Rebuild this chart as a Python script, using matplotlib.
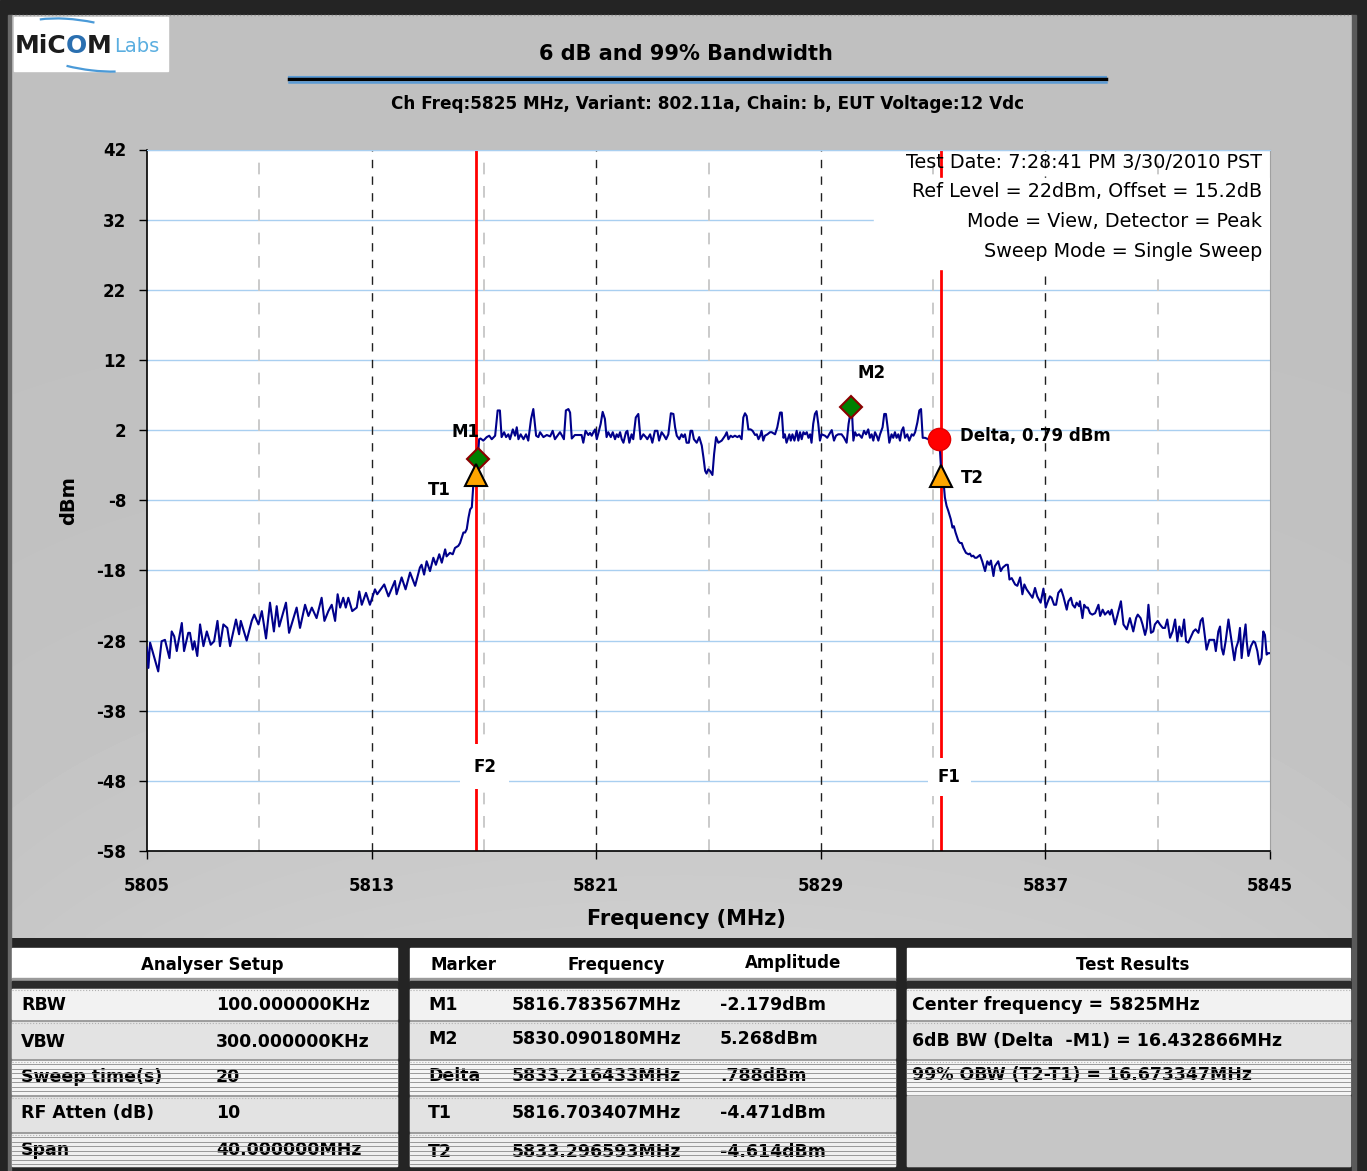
import numpy as np
import matplotlib
matplotlib.use('Agg')
import matplotlib.pyplot as plt
from matplotlib.patches import Rectangle, Arc

# spectrum trace (MHz, dBm)
skirt_lo = [
    (5805.00, -29.0), (5805.05, -31.9), (5805.11, -28.3), (5805.40, -32.4), (5805.52, -28.1), (5805.64, -27.9),
    (5805.80, -30.5), (5805.88, -26.7), (5805.97, -27.4), (5806.06, -29.5), (5806.24, -25.5), (5806.32, -29.5),
    (5806.47, -26.9), (5806.53, -26.9), (5806.63, -29.3), (5806.69, -28.1), (5806.79, -30.2), (5806.89, -25.7),
    (5807.01, -28.8), (5807.13, -26.7), (5807.27, -28.6), (5807.39, -28.1), (5807.51, -25.2), (5807.60, -28.8),
    (5807.72, -25.7), (5807.86, -26.2), (5807.96, -28.8), (5808.17, -25.0), (5808.28, -27.1), (5808.34, -25.2),
    (5808.55, -28.0), (5808.73, -25.2), (5808.82, -24.3), (5808.97, -25.7), (5809.09, -23.8), (5809.24, -27.7),
    (5809.38, -22.6), (5809.52, -26.7), (5809.62, -23.1), (5809.71, -26.0), (5809.95, -22.6), (5810.06, -26.9),
    (5810.33, -23.3), (5810.45, -26.2), (5810.63, -22.9), (5810.75, -24.5), (5810.87, -23.3), (5811.04, -24.8),
    (5811.22, -21.9), (5811.32, -25.2), (5811.46, -23.8), (5811.58, -22.9), (5811.70, -25.2), (5811.79, -21.4),
    (5811.88, -23.3), (5811.99, -21.9), (5812.08, -23.3), (5812.17, -21.9), (5812.31, -23.8), (5812.47, -23.3),
    (5812.56, -21.0), (5812.65, -22.9), (5812.80, -21.2), (5812.94, -22.9), (5813.12, -20.7), (5813.20, -21.4),
    (5813.45, -20.0), (5813.60, -21.7), (5813.83, -19.5), (5813.89, -21.4), (5814.07, -19.0), (5814.21, -20.7),
    (5814.37, -18.3), (5814.55, -20.2), (5814.72, -17.6)]

rise = [
    (5814.78, -17.2), (5814.87, -18.6), (5814.96, -16.7), (5815.08, -18.1), (5815.20, -16.2), (5815.29, -17.2),
    (5815.41, -15.7), (5815.50, -16.9), (5815.62, -15.0), (5815.67, -16.0), (5815.79, -15.5), (5815.89, -15.7),
    (5815.97, -14.8), (5816.09, -14.5), (5816.15, -14.1), (5816.27, -12.6), (5816.33, -12.6), (5816.39, -12.1),
    (5816.45, -10.5), (5816.51, -9.3), (5816.57, -9.0), (5816.62, -6.0), (5816.70, -4.47), (5816.78, -2.18),
    (5816.83, 0.7), (5816.88, 0.8)]

top = [
    (5816.98, 0.5), (5817.10, 1.0), (5817.19, 1.2), (5817.28, 0.7), (5817.40, 1.2), (5817.49, 4.8), (5817.57, 4.8),
    (5817.63, 1.0), (5817.72, 1.7), (5817.79, 1.0), (5817.87, 1.4), (5817.93, 0.7), (5818.03, 2.1), (5818.11, 1.2),
    (5818.17, 2.4), (5818.23, 0.7), (5818.31, 1.4), (5818.41, 0.7), (5818.50, 1.4), (5818.58, 0.5), (5818.68, 3.6),
    (5818.76, 5.0), (5818.86, 1.2), (5818.94, 1.0), (5819.00, 1.7), (5819.12, 1.0), (5819.24, 1.3), (5819.36, 1.1),
    (5819.45, 1.9), (5819.53, 0.7), (5819.71, 1.7), (5819.77, 1.3), (5819.85, 0.7), (5819.92, 4.8), (5820.01, 5.0),
    (5820.07, 4.5), (5820.13, 0.8), (5820.24, 1.3), (5820.36, 1.3), (5820.48, 1.3), (5820.54, 0.2), (5820.62, 1.9),
    (5820.72, 1.3), (5820.78, 1.6), (5820.84, 1.2), (5820.90, 1.7), (5820.96, 2.1), (5821.02, 0.7), (5821.08, 1.6),
    (5821.16, 2.9), (5821.23, 4.6), (5821.31, 3.6), (5821.37, 1.0), (5821.43, 1.7), (5821.52, 1.0), (5821.59, 1.7),
    (5821.67, 0.7), (5821.73, 1.4), (5821.79, 1.0), (5821.85, 1.7), (5821.91, 0.7), (5821.97, 0.2), (5822.06, 1.7),
    (5822.11, 1.9), (5822.18, 0.2), (5822.26, 1.4), (5822.32, 0.7), (5822.41, 3.8), (5822.50, 4.3), (5822.58, 0.7),
    (5822.68, 1.4), (5822.77, 1.0), (5822.82, 0.7), (5822.92, 1.4), (5823.00, 0.2), (5823.09, 1.9), (5823.18, 1.9),
    (5823.24, 0.5), (5823.33, 1.7), (5823.42, 1.2), (5823.49, 0.7), (5823.57, 1.4), (5823.66, 4.4), (5823.75, 4.3),
    (5823.81, 2.4), (5823.87, 1.2), (5823.96, 0.7), (5824.04, 1.4), (5824.10, 1.0), (5824.16, 1.4), (5824.22, 0.2),
    (5824.30, 0.2), (5824.36, 1.9), (5824.42, 1.9), (5824.48, 0.7), (5824.58, 0.2), (5824.67, 1.0), (5824.76, -0.2),
    (5824.82, -1.9), (5824.88, -3.8), (5824.93, -4.2), (5824.99, -3.6), (5825.05, -3.8), (5825.14, -4.4),
    (5825.20, -1.4), (5825.27, 1.0), (5825.35, 0.2), (5825.47, 0.5), (5825.59, 1.2), (5825.65, 1.7), (5825.71, 0.7),
    (5825.79, 1.2), (5825.86, 1.0), (5825.94, 1.2), (5826.03, 1.0), (5826.10, 1.2), (5826.18, 0.7), (5826.24, 3.8),
    (5826.30, 4.4), (5826.36, 4.0), (5826.42, 2.1), (5826.50, 2.1), (5826.57, 1.9), (5826.66, 1.3), (5826.72, 1.4),
    (5826.78, 0.7), (5826.84, 1.2), (5826.89, 1.9), (5826.95, 0.5), (5827.01, 1.2), (5827.10, 1.4), (5827.19, 1.7),
    (5827.25, 1.7), (5827.37, 1.4), (5827.45, 2.4), (5827.55, 4.5), (5827.61, 4.5), (5827.67, 0.9), (5827.72, 1.4),
    (5827.78, 0.2), (5827.88, 1.4), (5827.93, 0.5), (5827.99, 1.4), (5828.06, 0.5), (5828.14, 1.9), (5828.20, 0.5),
    (5828.26, 1.7), (5828.32, 0.7), (5828.38, 1.7), (5828.44, 1.4), (5828.50, 1.7), (5828.56, 0.9), (5828.62, 1.4),
    (5828.67, 0.2), (5828.73, 2.9), (5828.79, 4.3), (5828.85, 4.7), (5828.91, 2.9), (5828.97, 0.5), (5829.03, 1.4),
    (5829.15, 1.2), (5829.23, 0.9), (5829.30, 1.4), (5829.39, 2.0), (5829.47, 0.5), (5829.54, 1.2), (5829.62, 1.4),
    (5829.74, 1.4), (5829.83, 0.9), (5829.92, 0.2), (5829.99, 2.9), (5830.05, 4.3), (5830.09, 5.27), (5830.12, 3.8),
    (5830.16, 0.5), (5830.22, 1.7), (5830.28, 1.2), (5830.36, 1.4), (5830.46, 0.9), (5830.54, 1.9), (5830.61, 1.4),
    (5830.69, 2.1), (5830.75, 0.9), (5830.81, 1.4), (5830.87, 0.5), (5830.93, 1.7), (5830.99, 1.2), (5831.05, 0.5),
    (5831.11, 1.4), (5831.20, 2.4), (5831.26, 4.3), (5831.32, 4.3), (5831.38, 2.4), (5831.44, 0.2), (5831.52, 1.4),
    (5831.58, 0.9), (5831.64, 1.7), (5831.70, 0.9), (5831.76, 1.4), (5831.82, 0.5), (5831.88, 1.9), (5831.94, 2.4),
    (5832.00, 0.9), (5832.08, 1.4), (5832.15, 0.5), (5832.24, 1.4), (5832.30, 1.2), (5832.36, 1.7), (5832.44, 3.1),
    (5832.51, 4.8), (5832.57, 5.0), (5832.63, 0.9), (5832.71, 0.9), (5832.83, 0.7), (5832.95, 0.6), (5833.13, 0.7),
    (5833.22, 0.79)]

fall = [
    (5833.26, -2.0), (5833.30, -4.61), (5833.39, -6.2), (5833.42, -7.6), (5833.48, -8.8), (5833.54, -9.5),
    (5833.63, -10.7), (5833.69, -11.9), (5833.74, -11.7), (5833.80, -12.6), (5833.90, -13.8), (5833.96, -14.1),
    (5834.02, -14.1), (5834.08, -14.8), (5834.17, -15.5), (5834.26, -15.7), (5834.31, -15.6), (5834.37, -16.0),
    (5834.43, -15.9), (5834.49, -16.2), (5834.55, -16.2), (5834.67, -15.8), (5834.75, -16.7), (5834.85, -18.1),
    (5834.93, -16.7), (5835.00, -17.2), (5835.06, -16.6), (5835.15, -18.8), (5835.20, -17.4), (5835.32, -16.7),
    (5835.41, -18.1), (5835.48, -17.6), (5835.60, -17.2), (5835.66, -17.2), (5835.72, -19.3), (5835.80, -19.1),
    (5835.92, -20.0), (5836.00, -20.2), (5836.10, -19.0), (5836.18, -21.4), (5836.25, -20.0), (5836.33, -20.7)]

skirt_hi = [
    (5836.45, -21.4), (5836.54, -21.9), (5836.63, -20.5), (5836.71, -21.7), (5836.83, -22.6), (5836.93, -20.6),
    (5837.01, -23.3), (5837.07, -22.6), (5837.16, -21.7), (5837.22, -21.9), (5837.31, -22.9), (5837.38, -22.9),
    (5837.46, -21.2), (5837.56, -20.7), (5837.64, -21.7), (5837.76, -23.6), (5837.82, -22.4), (5837.91, -21.9),
    (5837.97, -22.9), (5838.05, -23.3), (5838.11, -22.6), (5838.20, -23.1), (5838.23, -22.4), (5838.32, -24.8),
    (5838.38, -22.9), (5838.45, -23.3), (5838.51, -23.3), (5838.59, -24.1), (5838.67, -24.3), (5838.77, -24.1),
    (5838.89, -22.9), (5838.95, -24.5), (5839.04, -23.6), (5839.12, -24.3), (5839.24, -23.8), (5839.30, -24.3),
    (5839.36, -23.6), (5839.48, -25.7), (5839.56, -24.5), (5839.69, -22.4), (5839.78, -25.7), (5839.90, -26.4),
    (5840.01, -24.8), (5840.13, -26.7), (5840.23, -24.8), (5840.29, -24.3), (5840.39, -24.8), (5840.46, -25.7),
    (5840.55, -27.2), (5840.61, -26.2), (5840.67, -22.9), (5840.76, -26.9), (5840.84, -26.7), (5840.90, -25.7),
    (5841.00, -25.2), (5841.08, -25.7), (5841.18, -26.2), (5841.26, -26.2), (5841.34, -25.0), (5841.44, -27.6),
    (5841.53, -26.7), (5841.62, -25.0), (5841.70, -28.1), (5841.77, -26.0), (5841.85, -27.4), (5841.94, -25.0),
    (5842.01, -28.1), (5842.09, -28.3), (5842.17, -27.6), (5842.27, -26.7), (5842.35, -26.4), (5842.45, -26.9),
    (5842.53, -25.2), (5842.60, -24.8), (5842.66, -26.7), (5842.74, -29.3), (5842.84, -27.9), (5842.92, -27.9),
    (5843.01, -27.9), (5843.07, -29.5), (5843.16, -26.7), (5843.22, -26.0), (5843.28, -29.1), (5843.34, -30.0),
    (5843.42, -28.1), (5843.52, -25.0), (5843.58, -26.7), (5843.67, -29.1), (5843.73, -30.8), (5843.79, -29.1),
    (5843.87, -28.1), (5843.93, -26.2), (5843.99, -30.5), (5844.05, -28.1), (5844.13, -25.7), (5844.17, -28.1),
    (5844.23, -30.2), (5844.32, -28.8), (5844.41, -28.1), (5844.47, -28.3), (5844.55, -29.5), (5844.62, -31.4),
    (5844.70, -30.5), (5844.76, -26.7), (5844.82, -27.2), (5844.88, -30.0), (5844.94, -29.8), (5845.00, -29.8)]

# markers
mk_names = ['M1', 'M2', 'Delta', 'T1', 'T2']
mk_freq = [5816.783567, 5830.090180, 5833.216433, 5816.703407, 5833.296593]
mk_amp = [-2.179, 5.268, 0.788, -4.471, -4.614]

xticks = [5805, 5813, 5821, 5829, 5837, 5845]
yticks = [42, 32, 22, 12, 2, -8, -18, -28, -38, -48, -58]

title = '6 dB and 99% Bandwidth'
subtitle = 'Ch Freq:5825 MHz, Variant: 802.11a, Chain: b, EUT Voltage:12 Vdc'
info = ['Test Date: 7:28:41 PM 3/30/2010 PST',
        'Ref Level = 22dBm, Offset = 15.2dB',
        'Mode = View, Detector = Peak',
        'Sweep Mode = Single Sweep']

setup_names = ['RBW', 'VBW', 'Sweep time(s)', 'RF Atten (dB)', 'Span']
setup_vals = ['100.000000KHz', '300.000000KHz', '20', '10', '40.000000MHz']
mk_freq_txt = ['5816.783567MHz', '5830.090180MHz', '5833.216433MHz', '5816.703407MHz', '5833.296593MHz']
mk_amp_txt = ['-2.179dBm', '5.268dBm', '.788dBm', '-4.471dBm', '-4.614dBm']
results = ['Center frequency = 5825MHz',
           '6dB BW (Delta  -M1) = 16.432866MHz',
           '99% OBW (T2-T1) = 16.673347MHz']

trace = skirt_lo + rise + top + fall + skirt_hi
tf = [p[0] for p in trace]
ta = [p[1] for p in trace]

W, H = 1367, 1171
fig = plt.figure(figsize=(W / 100, H / 100), dpi=100)

# ---- background / frame, drawn in pixel coords
bg = fig.add_axes([0, 0, 1, 1])
bg.add_patch(Rectangle((0, 0), W, H, color='#242424', zorder=0))
yy = np.linspace(0, 1, 200)[:, None]
xx = np.linspace(-1, 1, 300)[None, :]
shade = 0.752 + 0.055 * yy ** 3 * (1 - 0.5 * xx ** 2)
bg.imshow(shade, cmap='gray', vmin=0, vmax=1, extent=(11, 1352, 938, 15),
          aspect='auto', zorder=1, interpolation='bilinear')
bg.plot([11, 1352], [15, 15], color='#9a9a9a', lw=1, ls=':', zorder=2)
bg.add_patch(Rectangle((8, 15), 3, 1156, color='#6a6a6a', zorder=2))
bg.add_patch(Rectangle((1352, 15), 4, 1156, color='#5a5a5a', zorder=2))

# logo
bg.add_patch(Rectangle((14, 17), 154, 54, color='white', zorder=2))
bg.add_patch(Arc((84, 45), 140, 48, angle=10, theta1=30, theta2=120, color='#4a9ad8', lw=1.6, zorder=3))
bg.add_patch(Arc((84, 45), 140, 48, angle=10, theta1=200, theta2=285, color='#4a9ad8', lw=1.6, zorder=3))
bg.text(15, 46, 'MiC', fontsize=18, weight='bold', color='#1c1c1c', va='center', zorder=4)
bg.text(76, 46, 'O', fontsize=18, weight='bold', color='#2a6fb0', ha='center', va='center', zorder=4)
bg.text(87, 46, 'M', fontsize=18, weight='bold', color='#1c1c1c', va='center', zorder=4)
bg.text(114, 46, 'Labs', fontsize=14, color='#5aaee0', va='center', zorder=4)

# title block
bg.text(686, 54, title, fontsize=15, weight='bold', ha='center', va='center', zorder=3)
bg.plot([289, 1106], [77, 77], color='#5b9bd5', lw=1.5, zorder=3)
bg.plot([289, 1106], [79, 79], color='black', lw=2.5, zorder=3)
bg.plot([289, 1106], [81.5, 81.5], color='#5b9bd5', lw=1.8, zorder=3)
bg.text(708, 104, subtitle, fontsize=12.2, weight='bold', ha='center', va='center', zorder=3)

# ---- tables
panels = [(12, 397), (410, 895), (907, 1350)]
rows_y = [(989, 1019), (1022, 1058), (1061, 1094), (1097, 1131), (1134, 1166)]
row_fill = ['#f2f2f2', '#e3e3e3', '#f4f4f4', '#e3e3e3', '#efefef']
striped = [2, 4]


def draw_rows(x0, x1, n):
    bg.add_patch(Rectangle((x0, 948), x1 - x0, 30, color='white', zorder=2))
    bg.add_patch(Rectangle((x0, 978), x1 - x0, 3, color='#9a9a9a', zorder=2))
    bg.add_patch(Rectangle((x0, 981), x1 - x0, 8, color='#2c2c2c', zorder=2))
    bg.add_patch(Rectangle((x0, 989), x1 - x0, 177, color='#8c8c8c', zorder=2))
    for i, (y0, y1) in enumerate(rows_y):
        if i >= n:
            bg.add_patch(Rectangle((x0, y0 - 1), x1 - x0, 1166 - y0 + 1, color='#c6c6c6', zorder=2))
            break
        bg.add_patch(Rectangle((x0, y0), x1 - x0, y1 - y0, color=row_fill[i], zorder=2))
        bg.plot([x0, x1], [y0 + 0.5, y0 + 0.5], color='#b0b0b0', lw=0.8, ls=':', zorder=3)
        if i in striped:
            for s in np.arange(y0 + 3, y1, 4.5):
                bg.plot([x0, x1], [s, s], color='#8a8a8a', lw=0.6, zorder=5)


draw_rows(*panels[0], 5)
draw_rows(*panels[1], 5)
draw_rows(*panels[2], 3)

fs = 12.5
bg.text(212, 965, 'Analyser Setup', fontsize=12, weight='bold', ha='center', va='center', zorder=4)
bg.text(431, 965, 'Marker', fontsize=12, weight='bold', va='center', zorder=4)
bg.text(616, 965, 'Frequency', fontsize=12, weight='bold', ha='center', va='center', zorder=4)
bg.text(793, 963, 'Amplitude', fontsize=12, weight='bold', ha='center', va='center', zorder=4)
bg.text(1133, 965, 'Test Results', fontsize=12, weight='bold', ha='center', va='center', zorder=4)

yc1 = [1005, 1042, 1077, 1113, 1150]
yc2 = [1005, 1039, 1076, 1113, 1152]
yc3 = [1005, 1041, 1075]
for i in range(5):
    bg.text(21, yc1[i], setup_names[i], fontsize=fs, weight='bold', va='center', zorder=4)
    bg.text(216, yc1[i], setup_vals[i], fontsize=fs, weight='bold', va='center', zorder=4)
    bg.text(428, yc2[i], mk_names[i], fontsize=fs, weight='bold', va='center', zorder=4)
    bg.text(512, yc2[i], mk_freq_txt[i], fontsize=fs, weight='bold', va='center', zorder=4)
    bg.text(720, yc2[i], mk_amp_txt[i], fontsize=fs, weight='bold', va='center', zorder=4)
for i in range(3):
    bg.text(912, yc3[i], results[i], fontsize=fs, weight='bold', va='center', zorder=4)

bg.set_xlim(0, W)
bg.set_ylim(H, 0)
bg.axis('off')

# ---- spectrum plot
ax = fig.add_axes([147 / W, 1 - 851 / H, 1123 / W, 701.5 / H])
ax.set_facecolor('white')
ax.set_xlim(5805, 5845)
ax.set_ylim(-58, 42)

for y in yticks:
    ax.axhline(y, color='#a9cff0', lw=1, zorder=0.5)
for i in range(len(xticks) - 1):
    mid = (xticks[i] + xticks[i + 1]) / 2
    ax.axvline(mid, color='#cacaca', lw=1.4, ls=(0, (6, 6)), zorder=0.6)
    if i > 0:
        ax.axvline(xticks[i], color='#202020', lw=1, ls=(0, (6, 6)), zorder=0.6)

# F2 / F1 lines at the 99% points
ax.axvline(mk_freq[3], color='red', lw=2, zorder=2)
ax.axvline(mk_freq[4], color='red', lw=2, zorder=2)

ax.plot(tf, ta, color='#00008b', lw=1.5, zorder=3)

# settings box
ax.add_patch(Rectangle((5830.9, 25.0), 14.1, 12.9, color='white', zorder=4))
for i, line in enumerate(info):
    ax.text(0.9929, 0.982 - i * 0.0425, line, transform=ax.transAxes, fontsize=13.8,
            ha='right', va='center', zorder=5)

# markers
ax.plot(mk_freq[0:2], mk_amp[0:2], 'D', ms=11, mfc='#008000', mec='#8b0000', mew=1.5, zorder=6, ls='none')
ax.plot(mk_freq[2], mk_amp[2], 'o', ms=16, mfc='red', mec='#e00000', mew=1, zorder=6)
ax.plot(mk_freq[3:5], mk_amp[3:5], '^', ms=16, mfc='#ffa500', mec='black', mew=1.5, zorder=6, ls='none')

lbl = ['M1', 'M2', 'Delta, %.2f dBm' % mk_amp[2], 'T1', 'T2']
offs = [(-12, 27), (20, 34), (21, 3), (-36, -15), (31, -2)]
has = ['center', 'center', 'left', 'center', 'center']
for i in range(5):
    ax.annotate(lbl[i], (mk_freq[i], mk_amp[i]), xytext=offs[i], textcoords='offset pixels',
                fontsize=12, weight='bold', ha=has[i], va='center', zorder=7)

ax.annotate('F2', (mk_freq[3], -46.0), xytext=(9, 0), textcoords='offset pixels', fontsize=12,
            weight='bold', ha='center', va='center', zorder=5,
            bbox=dict(boxstyle='square,pad=0.8', fc='white', ec='none'))
ax.annotate('F1', (mk_freq[4], -47.4), xytext=(8, 0), textcoords='offset pixels', fontsize=12,
            weight='bold', ha='center', va='center', zorder=5,
            bbox=dict(boxstyle='square,pad=0.6', fc='white', ec='none'))

ax.set_xticks(xticks)
ax.set_xticklabels([str(t) for t in xticks], fontsize=12, weight='bold')
ax.set_yticks(yticks)
ax.set_yticklabels([str(t) for t in yticks], fontsize=12, weight='bold')
ax.tick_params(axis='x', direction='out', length=6, width=1, pad=13)
ax.tick_params(axis='y', direction='out', length=6, width=1, pad=9)
for s in ['left', 'bottom']:
    ax.spines[s].set_color('black')
    ax.spines[s].set_linewidth(1.2)
ax.spines['right'].set_color('#a0a0a0')
ax.spines['top'].set_color('#a9cff0')

ax.set_xlabel('Frequency (MHz)', fontsize=15, weight='bold')
ax.xaxis.set_label_coords(0.48, -0.0827)
ax.set_ylabel('dBm', fontsize=14, weight='bold')
ax.yaxis.set_label_coords(-0.0614, 0.5)

fig.savefig('out.png', dpi=100)
